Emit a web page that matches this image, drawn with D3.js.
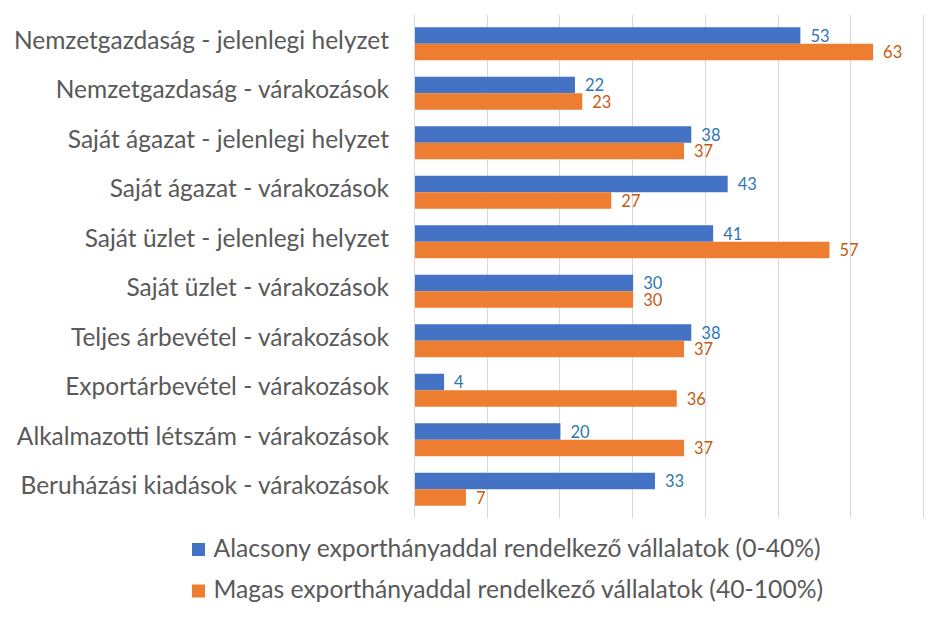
<!DOCTYPE html>
<html>
<head>
<meta charset="utf-8">
<script src="https://cdn.jsdelivr.net/npm/d3@7"></script>
<style>
html,body{margin:0;padding:0;background:#fff;}
svg{display:block;}
</style>
</head>
<body>
<svg id="chart" width="941" height="625"></svg>
<script>
const categories = [
  "Nemzetgazdaság - jelenlegi helyzet",
  "Nemzetgazdaság - várakozások",
  "Saját ágazat - jelenlegi helyzet",
  "Saját ágazat - várakozások",
  "Saját üzlet - jelenlegi helyzet",
  "Saját üzlet - várakozások",
  "Teljes árbevétel - várakozások",
  "Exportárbevétel - várakozások",
  "Alkalmazotti létszám - várakozások",
  "Beruházási kiadások - várakozások"
];
const lowExport = [53, 22, 38, 43, 41, 30, 38, 4, 20, 33];
const highExport = [63, 23, 37, 27, 57, 30, 37, 36, 37, 7];
const seriesNames = [
  "Alacsony exporthányaddal rendelkező vállalatok (0-40%)",
  "Magas exporthányaddal rendelkező vállalatok (40-100%)"
];
const xTicks = [0, 10, 20, 30, 40, 50, 60, 70];

(function () {
const series = [
  {name: seriesNames[0], values: lowExport, fill: "#4472C4", text: "#2E75B6"},
  {name: seriesNames[1], values: highExport, fill: "#ED7D31", text: "#C55A11"}
];

const svg = d3.select("#chart");
const font = "Lato, 'Open Sans', sans-serif";
const mLeft = 415, mRight = 924, mTop = 19, mBottom = 514;

const x = d3.scaleLinear().domain([0, 70]).range([mLeft, mRight]);
const y = d3.scaleBand().domain(categories).range([mTop, mBottom]).paddingInner(1 / 3).paddingOuter(1 / 6);
const ySub = d3.scaleBand().domain([0, 1]).range([0, y.bandwidth()]);

// gridlines
svg.append("g").selectAll("line").data(xTicks).join("line")
  .attr("x1", d => Math.round(x(d)) - 0.5).attr("x2", d => Math.round(x(d)) - 0.5)
  .attr("y1", 15).attr("y2", 518)
  .attr("stroke", "#D9D9D9").attr("stroke-width", 1);

// bars
const groups = svg.append("g").selectAll("g").data(categories).join("g")
  .attr("transform", d => `translate(0,${y(d)})`);

series.forEach((s, si) => {
  groups.append("rect")
    .attr("x", x(0))
    .attr("y", ySub(si))
    .attr("width", (d, i) => x(s.values[i]) - x(0))
    .attr("height", ySub.bandwidth())
    .attr("fill", s.fill);
  groups.append("text")
    .attr("x", (d, i) => x(s.values[i]) + 10)
    .attr("y", ySub(si) + ySub.bandwidth() / 2 + 6)
    .attr("font-family", font)
    .attr("font-size", 16.5)
    .attr("fill", s.text)
    .text((d, i) => s.values[i]);
});

// category labels
svg.append("g").selectAll("text").data(categories).join("text")
  .attr("x", 389)
  .attr("y", d => y(d) + y.bandwidth() / 2 + 5)
  .attr("text-anchor", "end")
  .attr("font-family", font)
  .attr("font-size", 24.5)
  .attr("fill", "#595959")
  .text(d => d);

// legend
const legend = svg.append("g").selectAll("g").data(series).join("g")
  .attr("transform", (d, i) => `translate(192,${549.5 + i * 41.5})`);
legend.append("rect")
  .attr("x", 0).attr("y", -6.5).attr("width", 13).attr("height", 13)
  .attr("fill", d => d.fill);
legend.append("text")
  .attr("x", 21.5).attr("y", 7)
  .attr("font-family", font)
  .attr("font-size", 24.7)
  .attr("fill", "#595959")
  .text(d => d.name);
})();
</script>
</body>
</html>
